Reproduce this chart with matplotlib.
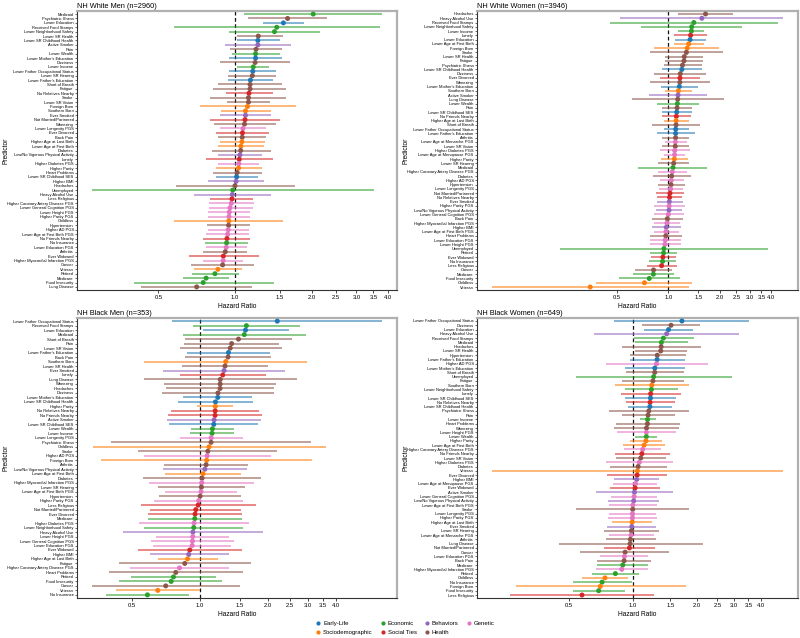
import matplotlib
matplotlib.use("Agg")
import matplotlib.pyplot as plt
import numpy as np
from matplotlib.ticker import FixedLocator, FixedFormatter, NullLocator
from matplotlib.lines import Line2D

plt.rcParams['font.family'] = ['Liberation Sans', 'DejaVu Sans']

# ---------------- categories ----------------
category_names = ['Early-Life', 'Sociodemographic', 'Economic', 'Social Ties',
                  'Behaviors', 'Health', 'Genetic']
category_colors = ['#1f77b4', '#ff7f0e', '#2ca02c', '#d62728',
                   '#9467bd', '#8c564b', '#e377c2']

early_life = ["Lower Education", "Lower SR Childhood Health", "Lower Mother's Education",
              "Lower Father Occupational Status", "Lower Father's Education",
              "Lower SR Childhood SES"]
sociodemographic = ["Foreign Born", "Southern Born", "Higher Age at Last Birth",
                    "Lower Age at First Birth", "Higher Parity", "Childless", "Veteran"]
economic = ["Medicaid", "Received Food Stamps", "Lower Neighborhood Safety", "Lower Wealth",
            "Lower Income", "Unemployed", "No Insurance", "Retired", "Medicare",
            "Food Insecurity"]
social_ties = ["No Relatives Nearby", "Not Married/Partnered", "Ever Divorced", "Lonely",
               "Less Religious", "No Friends Nearby", "Ever Widowed"]
behaviors = ["Active Smoker", "Ever Smoked", "Low/No Vigorous Physical Activity",
             "Higher BMI", "Heavy Alcohol Use"]
# Genetic = every label ending in "PGS"; Health = everything else

# ---------------- NH White Men ----------------
wm_labels = ["Medicaid", "Psychiatric Illness", "Lower Education", "Received Food Stamps",
             "Lower Neighborhood Safety", "Lower SR Health", "Lower SR Childhood Health",
             "Active Smoker", "Pain", "Lower Wealth", "Lower Mother's Education", "Dizziness",
             "Lower Income", "Lower Father Occupational Status", "Lower SR Hearing",
             "Lower Father's Education", "Short of Breath", "Fatigue", "No Relatives Nearby",
             "Stroke", "Lower SR Vision", "Foreign Born", "Southern Born", "Ever Smoked",
             "Not Married/Partnered", "Wheezing", "Lower Longevity PGS", "Ever Divorced",
             "Back Pain", "Higher Age at Last Birth", "Lower Age at First Birth", "Diabetes",
             "Low/No Vigorous Physical Activity", "Lonely", "Higher Diabetes PGS",
             "Higher Parity", "Heart Problems", "Lower SR Childhood SES", "Higher BMI",
             "Headaches", "Unemployed", "Heavy Alcohol Use", "Less Religious",
             "Higher Coronary Artery Disease PGS", "Lower General Cognition PGS",
             "Lower Height PGS", "Higher Parity PGS", "Childless", "Hypertension",
             "Higher AD PGS", "Lower Age at First Birth PGS", "No Friends Nearby",
             "No Insurance", "Lower Education PGS", "Arthritis", "Ever Widowed",
             "Higher Myocardial Infarction PGS", "Cancer", "Veteran", "Retired", "Medicare",
             "Food Insecurity", "Lung Disease"]
wm_hr = [2.03, 1.61, 1.55, 1.46, 1.43, 1.235, 1.23, 1.23, 1.21, 1.205, 1.205, 1.20,
         1.18, 1.175, 1.17, 1.15, 1.146, 1.146, 1.135, 1.13, 1.13, 1.12, 1.10, 1.10,
         1.095, 1.09, 1.075, 1.07, 1.068, 1.065, 1.055, 1.053, 1.046, 1.04, 1.035,
         1.033, 1.02, 1.015, 1.01, 1.0, 0.98, 0.976, 0.973, 0.967, 0.956, 0.95, 0.947,
         0.946, 0.944, 0.94, 0.936, 0.93, 0.927, 0.924, 0.916, 0.90, 0.899, 0.894,
         0.857, 0.834, 0.77, 0.75, 0.707]
wm_lo = [1.09, 1.13, 1.29, 0.575, 0.95, 1.015, 1.02, 0.91, 0.96, 0.975, 0.95, 0.875,
         1.02, 0.95, 0.94, 0.935, 0.86, 0.822, 0.92, 0.80, 0.93, 0.73, 0.88, 0.87,
         0.80, 0.825, 0.87, 0.845, 0.86, 0.87, 0.86, 0.81, 0.86, 0.77, 0.86, 0.84,
         0.82, 0.84, 0.78, 0.585, 0.273, 0.69, 0.80, 0.79, 0.79, 0.78, 0.78, 0.575,
         0.774, 0.78, 0.766, 0.75, 0.76, 0.77, 0.75, 0.66, 0.75, 0.67, 0.69, 0.68,
         0.625, 0.40, 0.427]
wm_hi = [3.80, 2.29, 1.87, 3.72, 2.16, 1.54, 1.50, 1.66, 1.53, 1.50, 1.535, 1.65,
         1.365, 1.45, 1.455, 1.415, 1.53, 1.59, 1.41, 1.58, 1.37, 1.73, 1.38, 1.39,
         1.50, 1.445, 1.33, 1.356, 1.33, 1.31, 1.30, 1.38, 1.28, 1.41, 1.24, 1.28,
         1.28, 1.23, 1.30, 1.72, 3.53, 1.38, 1.18, 1.185, 1.18, 1.15, 1.15, 1.55,
         1.15, 1.14, 1.14, 1.15, 1.13, 1.12, 1.12, 1.24, 1.08, 1.19, 1.065, 1.034,
         0.95, 1.42, 1.17]

# ---------------- NH White Women ----------------
ww_labels = ["Headaches", "Heavy Alcohol Use", "Received Food Stamps",
             "Lower Neighborhood Safety", "Lower Income", "Lonely", "Lower Education",
             "Lower Age at First Birth", "Foreign Born", "Stroke", "Lower SR Health",
             "Fatigue", "Psychiatric Illness", "Lower SR Childhood Health", "Dizziness",
             "Ever Divorced", "Wheezing", "Lower Mother's Education", "Southern Born",
             "Active Smoker", "Lung Disease", "Lower Wealth", "Pain",
             "Lower SR Childhood SES", "No Friends Nearby", "Higher Age at Last Birth",
             "Short of Breath", "Lower Father Occupational Status",
             "Lower Father's Education", "Arthritis", "Lower Age at Menarche PGS",
             "Lower SR Vision", "Higher Diabetes PGS", "Lower Age at Menopause PGS",
             "Higher Parity", "Lower SR Hearing", "Medicaid",
             "Higher Coronary Artery Disease PGS", "Diabetes", "Higher AD PGS",
             "Hypertension", "Lower Longevity PGS", "Not Married/Partnered",
             "No Relatives Nearby", "Ever Smoked", "Higher Parity PGS",
             "Low/No Vigorous Physical Activity", "Lower General Cognition PGS",
             "Back Pain", "Higher Myocardial Infarction PGS", "Higher BMI",
             "Lower Age at First Birth PGS", "Heart Problems", "Lower Education PGS",
             "Lower Height PGS", "Unemployed", "Retired", "Ever Widowed", "No Insurance",
             "Less Religious", "Cancer", "Medicare", "Food Insecurity", "Childless",
             "Veteran"]
ww_hr = [1.65, 1.57, 1.41, 1.37, 1.365, 1.35, 1.34, 1.316, 1.29, 1.275, 1.24, 1.235,
         1.21, 1.20, 1.175, 1.17, 1.168, 1.16, 1.145, 1.14, 1.135, 1.13, 1.125, 1.12,
         1.114, 1.112, 1.11, 1.105, 1.104, 1.103, 1.10, 1.098, 1.09, 1.088, 1.085,
         1.075, 1.065, 1.055, 1.046, 1.04, 1.037, 1.032, 1.023, 1.018, 1.014, 1.012,
         1.01, 1.0, 0.987, 0.982, 0.973, 0.969, 0.967, 0.96, 0.956, 0.943, 0.939,
         0.93, 0.926, 0.914, 0.82, 0.818, 0.774, 0.726, 0.35]
ww_lo = [1.14, 0.52, 0.457, 0.69, 1.14, 1.075, 1.10, 1.075, 0.83, 0.78, 0.96, 0.96,
         0.94, 0.925, 0.83, 0.89, 0.785, 0.91, 0.955, 0.77, 0.61, 0.855, 0.918, 0.918,
         0.914, 0.94, 0.806, 0.94, 0.86, 0.925, 0.955, 0.925, 0.89, 0.94, 0.905, 0.87,
         0.67, 0.874, 0.813, 0.89, 0.87, 0.88, 0.846, 0.855, 0.855, 0.83, 0.843, 0.824,
         0.80, 0.83, 0.80, 0.82, 0.785, 0.785, 0.777, 0.234, 0.777, 0.795, 0.77, 0.75,
         0.638, 0.621, 0.516, 0.378, 0.093]
ww_hi = [2.39, 4.70, 4.36, 2.71, 1.62, 1.69, 1.65, 1.61, 1.98, 2.09, 1.60, 1.597,
         1.57, 1.58, 1.67, 1.54, 1.755, 1.49, 1.38, 1.69, 2.12, 1.51, 1.38, 1.37,
         1.36, 1.33, 1.54, 1.32, 1.43, 1.32, 1.29, 1.316, 1.34, 1.26, 1.31, 1.33,
         1.69, 1.286, 1.36, 1.23, 1.25, 1.22, 1.24, 1.21, 1.22, 1.246, 1.21, 1.24,
         1.22, 1.165, 1.19, 1.15, 1.20, 1.18, 1.18, 3.80, 1.13, 1.104, 1.114, 1.12,
         1.055, 1.085, 1.165, 1.38, 1.33]

# ---------------- NH Black Men ----------------
bm_labels = ["Lower Father Occupational Status", "Received Food Stamps", "Lower Education",
             "Medicaid", "Short of Breath", "Pain", "Lower SR Vision",
             "Lower Father's Education", "Back Pain", "Southern Born", "Lower SR Health",
             "Ever Smoked", "Lonely", "Lung Disease", "Wheezing", "Headaches", "Dizziness",
             "Lower Mother's Education", "Lower SR Childhood Health", "Higher Parity",
             "No Relatives Nearby", "No Friends Nearby", "Active Smoker",
             "Lower SR Childhood SES", "Lower Wealth", "Lower Income",
             "Lower Longevity PGS", "Psychiatric Illness", "Childless", "Stroke",
             "Higher AD PGS", "Foreign Born", "Arthritis",
             "Low/No Vigorous Physical Activity", "Lower Age at First Birth", "Diabetes",
             "Higher Myocardial Infarction PGS", "Lower SR Hearing",
             "Lower Age at First Birth PGS", "Hypertension", "Higher Parity PGS",
             "Less Religious", "Not Married/Partnered", "Ever Divorced", "Medicare",
             "Higher Diabetes PGS", "Lower Neighborhood Safety", "Heavy Alcohol Use",
             "Lower Height PGS", "Lower General Cognition PGS", "Lower Education PGS",
             "Ever Widowed", "Higher BMI", "Higher Age at Last Birth", "Fatigue",
             "Higher Coronary Artery Disease PGS", "Heart Problems", "Retired",
             "Food Insecurity", "Cancer", "Veteran", "No Insurance"]
bm_hr = [2.20, 1.605, 1.59, 1.57, 1.48, 1.38, 1.36, 1.336, 1.33, 1.30, 1.29, 1.278,
         1.26, 1.228, 1.227, 1.226, 1.20, 1.198, 1.17, 1.168, 1.166, 1.165, 1.154, 1.15,
         1.134, 1.13, 1.12, 1.118, 1.096, 1.082, 1.074, 1.07, 1.063, 1.05, 1.03, 1.02,
         1.017, 1.014, 1.01, 1.0, 0.986, 0.98, 0.957, 0.95, 0.947, 0.94, 0.937, 0.929,
         0.928, 0.925, 0.922, 0.90, 0.89, 0.879, 0.855, 0.81, 0.78, 0.762, 0.744,
         0.704, 0.649, 0.584]
bm_lo = [0.754, 0.93, 1.03, 0.838, 0.857, 0.85, 0.815, 0.873, 0.857, 0.564, 0.83,
         0.683, 0.815, 0.564, 0.692, 0.706, 0.68, 0.843, 0.80, 0.973, 0.741, 0.72,
         0.71, 0.73, 0.909, 0.903, 0.812, 0.404, 0.334, 0.53, 0.564, 0.362, 0.695,
         0.685, 0.697, 0.558, 0.595, 0.649, 0.70, 0.658, 0.625, 0.547, 0.60, 0.586,
         0.586, 0.538, 0.564, 0.454, 0.638, 0.606, 0.616, 0.53, 0.598, 0.649, 0.437,
         0.49, 0.395, 0.494, 0.437, 0.33, 0.424, 0.383]
bm_hi = [6.44, 2.78, 2.48, 2.95, 2.56, 2.25, 2.30, 2.04, 2.07, 2.99, 2.01, 2.38,
         1.96, 2.68, 2.17, 2.13, 2.12, 1.70, 1.725, 1.40, 1.83, 1.885, 1.87, 1.815,
         1.42, 1.42, 1.557, 3.10, 3.61, 2.20, 2.06, 3.15, 1.63, 1.62, 1.525, 1.87,
         1.73, 1.59, 1.46, 1.525, 1.557, 1.765, 1.525, 1.53, 1.53, 1.65, 1.557, 1.90,
         1.35, 1.42, 1.378, 1.53, 1.34, 1.198, 1.678, 1.34, 1.557, 1.18, 1.256, 1.50,
         0.997, 0.897]

# ---------------- NH Black Women ----------------
bw_labels = ["Lower Father Occupational Status", "Dizziness", "Lower Education",
             "Heavy Alcohol Use", "Received Food Stamps", "Medicaid", "Headaches",
             "Lower SR Health", "Hypertension", "Lower Father's Education", "Higher AD PGS",
             "Lower Mother's Education", "Short of Breath", "Unemployed", "Fatigue",
             "Southern Born", "Lower Neighborhood Safety", "Lonely",
             "Lower SR Childhood SES", "No Relatives Nearby", "Lower SR Childhood Health",
             "Psychiatric Illness", "Pain", "Lower Income", "Heart Problems", "Wheezing",
             "Lower Height PGS", "Lower Wealth", "Higher Parity", "Lower Age at First Birth",
             "Higher Coronary Artery Disease PGS", "No Friends Nearby", "Lower SR Vision",
             "Higher Diabetes PGS", "Diabetes", "Veteran", "Ever Divorced", "Higher BMI",
             "Lower Age at Menopause PGS", "Ever Widowed", "Active Smoker",
             "Lower General Cognition PGS", "Low/No Vigorous Physical Activity",
             "Lower Age at First Birth PGS", "Stroke", "Lower Longevity PGS",
             "Higher Parity PGS", "Higher Age at Last Birth", "Ever Smoked",
             "Lower SR Hearing", "Lower Age at Menarche PGS", "Arthritis", "Lung Disease",
             "Not Married/Partnered", "Cancer", "Lower Education PGS", "Back Pain",
             "Medicare", "Higher Myocardial Infarction PGS", "Retired", "Childless",
             "No Insurance", "Foreign Born", "Food Insecurity", "Less Religious"]
bw_hr = [1.70, 1.51, 1.47, 1.44, 1.39, 1.36, 1.356, 1.35, 1.30, 1.298, 1.29, 1.266,
         1.265, 1.25, 1.24, 1.225, 1.22, 1.21, 1.208, 1.203, 1.20, 1.186, 1.177, 1.17,
         1.169, 1.157, 1.156, 1.155, 1.15, 1.127, 1.11, 1.10, 1.087, 1.07, 1.056,
         1.048, 1.045, 1.04, 1.026, 1.022, 1.015, 1.011, 1.007, 0.997, 0.996, 0.993,
         0.992, 0.989, 0.986, 0.982, 0.978, 0.971, 0.968, 0.961, 0.917, 0.91, 0.907,
         0.894, 0.884, 0.825, 0.737, 0.714, 0.70, 0.688, 0.574]
bw_lo = [0.813, 1.10, 1.13, 0.654, 1.01, 1.02, 0.884, 1.02, 0.964, 0.964, 0.748,
         0.917, 0.923, 0.535, 0.89, 0.82, 0.917, 0.874, 0.92, 0.93, 0.95, 0.77, 0.89,
         1.075, 0.83, 0.813, 0.84, 1.022, 0.97, 0.897, 0.907, 0.82, 0.83, 0.748,
         0.776, 0.215, 0.756, 0.816, 0.804, 0.778, 0.666, 0.784, 0.762, 0.767, 0.54,
         0.773, 0.762, 0.793, 0.754, 0.727, 0.767, 0.748, 0.447, 0.727, 0.562, 0.70,
         0.675, 0.675, 0.668, 0.638, 0.574, 0.518, 0.279, 0.518, 0.264]
bw_hi = [3.52, 2.08, 1.92, 3.17, 1.935, 1.81, 2.10, 1.80, 1.77, 1.76, 2.26, 1.76,
         1.74, 2.94, 1.736, 1.83, 1.63, 1.69, 1.586, 1.575, 1.518, 1.84, 1.57, 1.28,
         1.67, 1.65, 1.586, 1.30, 1.366, 1.416, 1.36, 1.49, 1.427, 1.546, 1.45, 5.12,
         1.45, 1.327, 1.30, 1.346, 1.55, 1.30, 1.33, 1.30, 1.84, 1.28, 1.30, 1.23,
         1.289, 1.33, 1.25, 1.289, 2.13, 1.275, 1.48, 1.18, 1.22, 1.18, 1.17, 1.068,
         0.95, 0.993, 1.77, 0.917, 1.25]

panel_titles = ["NH White Men (n=2960)", "NH White Women (n=3946)",
                "NH Black Men (n=353)", "NH Black Women (n=649)"]
panels = [(wm_labels, wm_hr, wm_lo, wm_hi), (ww_labels, ww_hr, ww_lo, ww_hi),
          (bm_labels, bm_hr, bm_lo, bm_hi), (bw_labels, bw_hr, bw_lo, bw_hi)]

x_ticks = [0.5, 1.0, 1.5, 2.0, 2.5, 3.0, 3.5, 4.0]
x_tick_labels = ["0.5", "1.0", "1.5", "2.0", "2.5", "3.0", "3.5", "4.0"]


def color_for(label):
    if label.endswith("PGS"):
        cat = 'Genetic'
    elif label in early_life:
        cat = 'Early-Life'
    elif label in sociodemographic:
        cat = 'Sociodemographic'
    elif label in economic:
        cat = 'Economic'
    elif label in social_ties:
        cat = 'Social Ties'
    elif label in behaviors:
        cat = 'Behaviors'
    else:
        cat = 'Health'
    return category_colors[category_names.index(cat)]


fig = plt.figure(figsize=(8.0, 6.38), dpi=100)
W, H = 800.0, 638.0
rects = [(77, 11, 397, 290), (477, 11, 798, 290),
         (77, 318, 397, 598), (477, 318, 798, 598)]

for (labels, hr, lo, hi), title, (x0, y0, x1, y1) in zip(panels, panel_titles, rects):
    ax = fig.add_axes([x0 / W, 1 - y1 / H, (x1 - x0) / W, (y1 - y0) / H])
    n = len(labels)
    y = np.arange(n)
    cols = [color_for(l) for l in labels]
    ax.set_xscale('log')
    ax.hlines(y, lo, hi, colors=cols, linewidth=1.1, alpha=0.7, zorder=2)
    ax.scatter(hr, y, c=cols, s=13, zorder=3, linewidths=0)
    ax.axvline(1.0, color='#111111', linestyle=(0, (3, 2)), linewidth=0.9, zorder=1)
    # x limits: data range with 5% margins in log space
    lmin, lmax = np.log10(min(lo)), np.log10(max(hi))
    pad = 0.05 * (lmax - lmin)
    ax.set_xlim(10 ** (lmin - pad), 10 ** (lmax + pad))
    ax.set_ylim(n - 0.3, -0.7)
    ax.set_yticks(y)
    ax.set_yticklabels(labels, fontsize=2.9)
    ax.xaxis.set_major_locator(FixedLocator(x_ticks))
    ax.xaxis.set_major_formatter(FixedFormatter(x_tick_labels))
    ax.xaxis.set_minor_locator(NullLocator())
    ax.tick_params(axis='x', labelsize=4.2, length=2, width=0.5, pad=1.5)
    ax.tick_params(axis='y', length=1.5, width=0.4, pad=1)
    ax.set_xlabel("Hazard Ratio", fontsize=4.8, labelpad=2)
    ax.set_ylabel("Predictor", fontsize=4.8)
    ax.yaxis.set_label_coords(-0.21, 0.5)
    ax.set_title(title, loc='left', fontsize=5.3, pad=2.5)
    for side in ['top', 'right']:
        ax.spines[side].set_color('#b0b0b0')
        ax.spines[side].set_linewidth(1.6)
    for side in ['left', 'bottom']:
        ax.spines[side].set_color('#333333')
        ax.spines[side].set_linewidth(0.8)

handles = [Line2D([], [], marker='o', linestyle='', markersize=3,
                  markerfacecolor=c, markeredgewidth=0)
           for c in category_colors]
fig.legend(handles, category_names, loc='center', bbox_to_anchor=(0.506, 1 - 628 / H),
           ncol=4, frameon=False, fontsize=4.3, handletextpad=0.3,
           columnspacing=1.2, labelspacing=0.6, handlelength=1.0)

fig.savefig("out.png", dpi=100)
